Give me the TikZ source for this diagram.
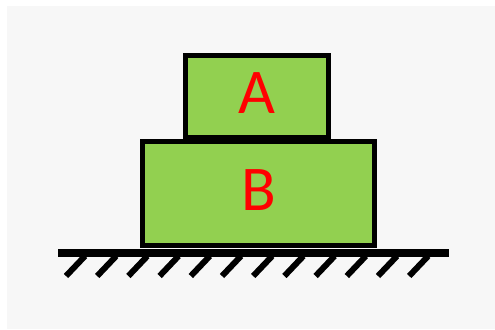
\documentclass[tikz,border=0pt]{standalone}
\usepackage{fontspec}
\setmainfont{Carlito}
\usepackage{xcolor}
\usepackage{tikz}
\usetikzlibrary{calc}
\usetikzlibrary{positioning}
\definecolor{blockgreen}{HTML}{92D050}
\definecolor{paper}{HTML}{F7F7F7}
\tikzset{block/.style={draw=black,fill=blockgreen,line width=5bp,text=red,
	font=\fontsize{64}{64}\selectfont,inner sep=0pt,text depth=6bp}}

\begin{document}
\begin{tikzpicture}[x=1bp,y=-1bp]
	\useasboundingbox (0,0) rectangle (495,329);
	\fill[white] (0,0) rectangle (495,329);
	\fill[paper] (7,6) rectangle (495,329);
	\node[block,minimum width=232bp,minimum height=104bp] (B) at (258.5,193.5) {B};
	\node[block,minimum width=143bp,minimum height=82bp] (A) at (257,96.5) {A};
	\coordinate (gl) at (58,253);
	\coordinate (gr) at (449,253);
	\draw[line width=8bp] (gl)--(gr);
	\foreach \i in {0,...,11}
		\draw[line width=6bp] ($(gl)+(8+31.2*\i,23)$)--++(19,-20);
\end{tikzpicture}
\end{document}
